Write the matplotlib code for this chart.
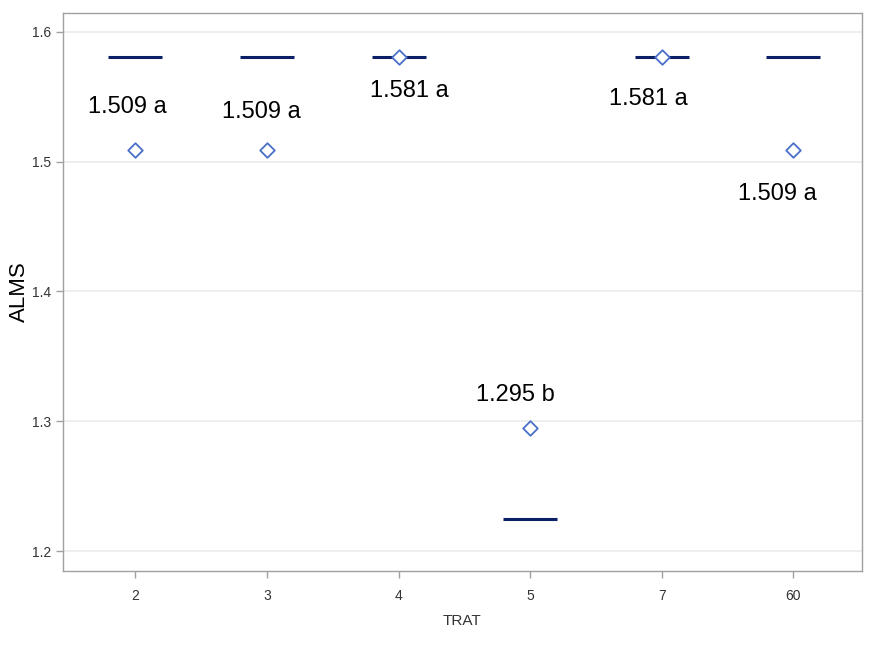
import matplotlib
matplotlib.use("Agg")
import matplotlib.pyplot as plt

# Treatment groups, group means with letter groupings, and group medians
trat = ["2", "3", "4", "5", "7", "60"]
means = [1.509, 1.509, 1.581, 1.295, 1.581, 1.509]
letters = ["a", "a", "a", "b", "a", "a"]
medians = [1.581, 1.581, 1.581, 1.225, 1.581, 1.581]

# label offsets (pixels, positive = up/right) relative to each mean marker
label_dx = [-8, -6, 11, -15, -13, -16]
label_dy = [43, 38, -34, 33, -42, -44]

plt.rcParams["font.family"] = ["Liberation Sans", "DejaVu Sans"]

fig = plt.figure(figsize=(8.75, 6.5), dpi=100)
ax = fig.add_axes([0.072, 0.1215, 0.913, 0.8585])

x = list(range(len(trat)))
half = 0.205

# collapsed boxes: median lines
for xi, m in zip(x, medians):
    ax.plot([xi - half, xi + half], [m, m], color="#0b1f66", lw=2.2,
            solid_capstyle="butt", zorder=3)

# mean diamonds
ax.scatter(x, means, marker="D", s=55, facecolors="white",
           edgecolors="#4a6fc8", linewidths=1.3, zorder=4)

for xi, mv, lt, dx, dy in zip(x, means, letters, label_dx, label_dy):
    ax.annotate(f"{mv:.3f} {lt}", xy=(xi, mv), xytext=(dx, dy),
                textcoords="offset pixels", ha="center", va="center",
                fontsize=17, color="black", zorder=5)

ax.set_xlim(-0.55, 5.52)
ax.set_ylim(1.1846, 1.6146)
ax.set_xticks(x)
ax.set_xticklabels(trat)
ax.set_yticks([1.2, 1.3, 1.4, 1.5, 1.6])
ax.set_yticklabels(["1.2", "1.3", "1.4", "1.5", "1.6"])

ax.grid(axis="y", color="#ebebeb", lw=1.2, zorder=0)
ax.set_axisbelow(True)
for s in ax.spines.values():
    s.set_color("#a0a0a0")
    s.set_linewidth(1.0)

ax.tick_params(axis="both", colors="#a0a0a0", labelcolor="#333333",
               labelsize=10, length=5, width=1)
ax.tick_params(axis="x", pad=8)

ax.set_xlabel("TRAT", fontsize=11, color="#333333", labelpad=8)
ax.set_ylabel("ALMS", fontsize=16, color="black")
ax.yaxis.set_label_coords(-0.041, 0.5)

fig.savefig("out.png", dpi=100)
